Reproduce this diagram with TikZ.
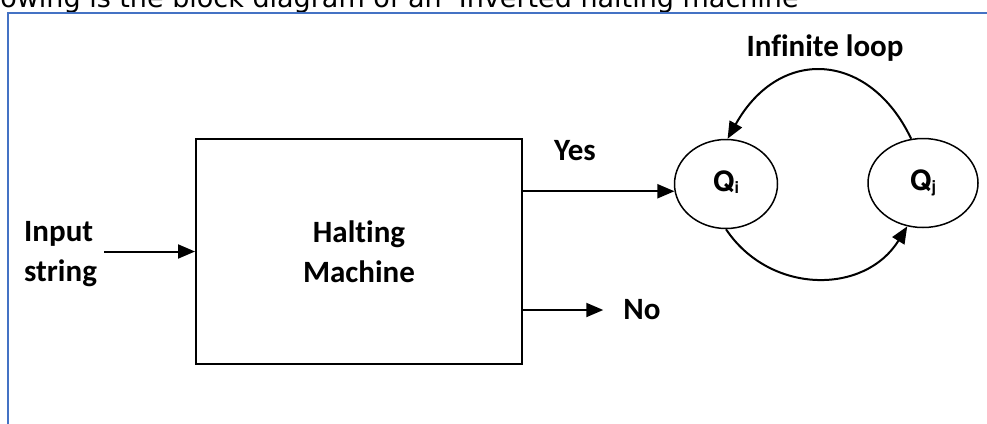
\documentclass[tikz,border=0pt]{standalone}
\usepackage{xcolor}
\usepackage{fontspec}
\setmainfont[Ligatures=NoCommon]{Carlito}
\newfontfamily\captionfont{DejaVu Sans}
\newfontfamily\qfont{TeX Gyre Heros}
\usepackage{tikz}
\usetikzlibrary{positioning, arrows.meta, shapes.geometric}
\definecolor{frameblue}{HTML}{4472C4}

\newcommand{\qname}[1]{{\qfont\bfseries\fontsize{28}{28}\selectfont Q\raisebox{-2pt}{\fontsize{16}{16}\selectfont #1}}}

\begin{document}
\begin{tikzpicture}[x=1pt, y=-1pt,
    lbl/.style={font=\fontsize{31}{40}\selectfont\bfseries, align=center, inner sep=0pt},
    stnode/.style={draw, ellipse, line width=1.5pt, minimum width=103pt, minimum height=89pt,
                   inner sep=0pt, text depth=6pt},
    arr/.style={line width=2pt, -{Triangle[length=17pt, width=14pt]}}]
    \useasboundingbox (0,0) rectangle (987,423);
    \clip (0,0) rectangle (987,423);

    % heading line and page frame
    \node[anchor=base west, inner sep=0pt, font=\captionfont\fontsize{27}{27}\selectfont] (heading)
      at (-46,7) {Following is the block diagram of an ‘Inverted halting machine’ −};
    \draw[frameblue, line width=2.5pt] (8,430) -- (8,13) -- (990,13);

    % machine and states
    \node[draw, line width=2pt, minimum width=326pt, minimum height=225pt, lbl] (hm)
      at (359,251.5) {Halting\\Machine};
    \node[lbl, align=left, anchor=west, inner xsep=7pt] (inp) at (17,254) {Input\\string};
    \node[lbl] (yes) at (575,151) {Yes};
    \node[lbl, inner xsep=20pt] (no) at (642,310) {No};
    \node[lbl] (loop) at (825,48) {Infinite loop};
    \node[stnode] (qi) at (726,184) {\qname{i}};
    \node[stnode, minimum width=110pt] (qj) at (923,183) {\qname{j}};

    % connectors
    \draw[arr] (hm.west -| inp.east) -- (hm.west);
    \draw[arr] (qi.188 -| hm.east) -- (qi.188);
    \draw[arr] (no.west -| hm.east) -- (no.west);
    \draw[arr] (qj.105) .. controls (870,52) and (780,45) .. (qi.88);
    \draw[arr] (qi.270) .. controls (770,295) and (865,295) .. (qj.250);
\end{tikzpicture}
\end{document}
